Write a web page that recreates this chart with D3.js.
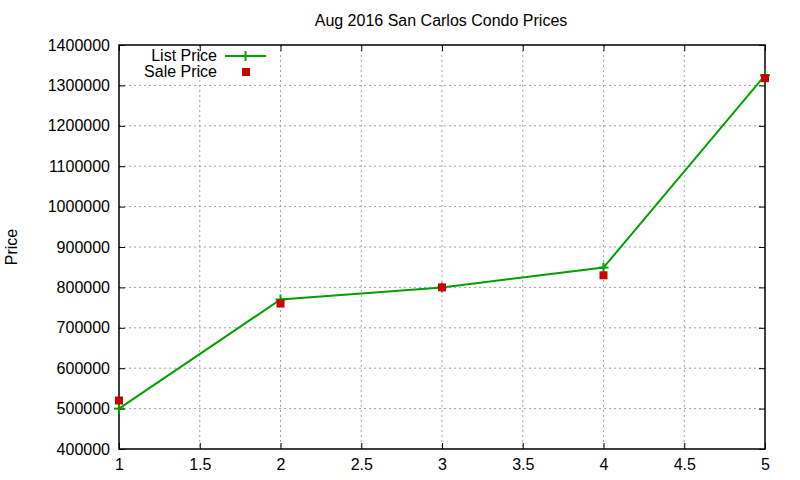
<!DOCTYPE html>
<html>
<head>
<meta charset="utf-8">
<script src="https://cdn.jsdelivr.net/npm/d3@7"></script>
<style>
  body { margin: 0; background: #fff; }
  svg text { font-family: "Liberation Sans", Arial, sans-serif; }
</style>
</head>
<body>
<svg id="chart" width="800" height="480"></svg>
<script>
// data
const xs = [1, 2, 3, 4, 5];
const listPrice = [500000, 770000, 800000, 849000, 1325000];
const salePrice = [520000, 760000, 800000, 830000, 1318000];
const xTicks = [1, 1.5, 2, 2.5, 3, 3.5, 4, 4.5, 5];
const yTicks = [400000, 500000, 600000, 700000, 800000, 900000, 1000000, 1100000, 1200000, 1300000, 1400000];

const svg = d3.select("#chart");
const pLeft = 119, pRight = 765, pTop = 45, pBottom = 449;
const fs = 16;

const x = d3.scaleLinear().domain([1, 5]).range([pLeft, pRight]);
const y = d3.scaleLinear().domain([400000, 1400000]).range([pBottom, pTop]);

const green = "#00a000", red = "#cc0000";

// grid
svg.append("g").selectAll("line").data(xTicks.slice(1, -1)).join("line")
  .attr("x1", d => x(d)).attr("x2", d => x(d))
  .attr("y1", pTop).attr("y2", pBottom)
  .attr("stroke", "#a0a0a0").attr("stroke-dasharray", "2,3");
svg.append("g").selectAll("line").data(yTicks.slice(1, -1)).join("line")
  .attr("x1", pLeft).attr("x2", pRight)
  .attr("y1", d => y(d)).attr("y2", d => y(d))
  .attr("stroke", "#a0a0a0").attr("stroke-dasharray", "2,3");

// axes, gnuplot style ticks pointing in, mirrored
const xAxis = d3.axisBottom(x).tickValues(xTicks).tickSizeInner(-6).tickSizeOuter(0).tickPadding(10).tickFormat(d3.format(""));
const yAxis = d3.axisLeft(y).tickValues(yTicks).tickSizeInner(-6).tickSizeOuter(0).tickPadding(9).tickFormat(d3.format("d"));

svg.append("g").attr("transform", `translate(0,${pBottom})`).call(xAxis)
  .call(g => g.selectAll("text").attr("font-size", fs).attr("fill", "#000").attr("font-family", "Liberation Sans, Arial, sans-serif"));
svg.append("g").attr("transform", `translate(${pLeft},0)`).call(yAxis)
  .call(g => g.selectAll("text").attr("font-size", fs).attr("fill", "#000").attr("font-family", "Liberation Sans, Arial, sans-serif"));
svg.append("g").attr("transform", `translate(0,${pTop})`)
  .call(d3.axisTop(x).tickValues(xTicks).tickSizeInner(-6).tickSizeOuter(0).tickFormat(""));
svg.append("g").attr("transform", `translate(${pRight},0)`)
  .call(d3.axisRight(y).tickValues(yTicks).tickSizeInner(-6).tickSizeOuter(0).tickFormat(""));
svg.selectAll(".domain").remove();
svg.selectAll(".tick line").attr("stroke", "#000");

svg.append("rect").attr("x", pLeft).attr("y", pTop)
  .attr("width", pRight - pLeft).attr("height", pBottom - pTop)
  .attr("fill", "none").attr("stroke", "#000").attr("stroke-width", 1.5);

// list price line
const pts = xs.map((d, i) => [d, listPrice[i]]);
svg.append("path").datum(pts)
  .attr("fill", "none").attr("stroke", green).attr("stroke-width", 2)
  .attr("d", d3.line().x(d => x(d[0])).y(d => y(d[1])));

const plus = (g, cx, cy) => {
  g.append("line").attr("x1", cx - 5).attr("x2", cx + 5).attr("y1", cy).attr("y2", cy)
    .attr("stroke", green).attr("stroke-width", 2);
  g.append("line").attr("x1", cx).attr("x2", cx).attr("y1", cy - 5).attr("y2", cy + 5)
    .attr("stroke", green).attr("stroke-width", 2);
};
const marks = svg.append("g");
pts.forEach(d => plus(marks, x(d[0]), y(d[1])));

// sale price squares
svg.append("g").selectAll("rect").data(xs.map((d, i) => [d, salePrice[i]])).join("rect")
  .attr("x", d => x(d[0]) - 4).attr("y", d => y(d[1]) - 4)
  .attr("width", 8).attr("height", 8).attr("fill", red);

// legend
const leg = svg.append("g");
leg.append("text").attr("x", 217).attr("y", 61).attr("text-anchor", "end")
  .attr("font-size", fs).text("List Price");
leg.append("line").attr("x1", 225).attr("x2", 266).attr("y1", 56).attr("y2", 56)
  .attr("stroke", green).attr("stroke-width", 2);
plus(leg, 245.5, 56);
leg.append("text").attr("x", 217).attr("y", 77).attr("text-anchor", "end")
  .attr("font-size", fs).text("Sale Price");
leg.append("rect").attr("x", 242).attr("y", 68).attr("width", 8).attr("height", 8).attr("fill", red);

// title and y label
svg.append("text").attr("x", 441).attr("y", 26).attr("text-anchor", "middle")
  .attr("font-size", fs).text("Aug 2016 San Carlos Condo Prices");
svg.append("text").attr("transform", "translate(17,247) rotate(-90)").attr("text-anchor", "middle")
  .attr("font-size", fs).text("Price");
</script>
</body>
</html>
